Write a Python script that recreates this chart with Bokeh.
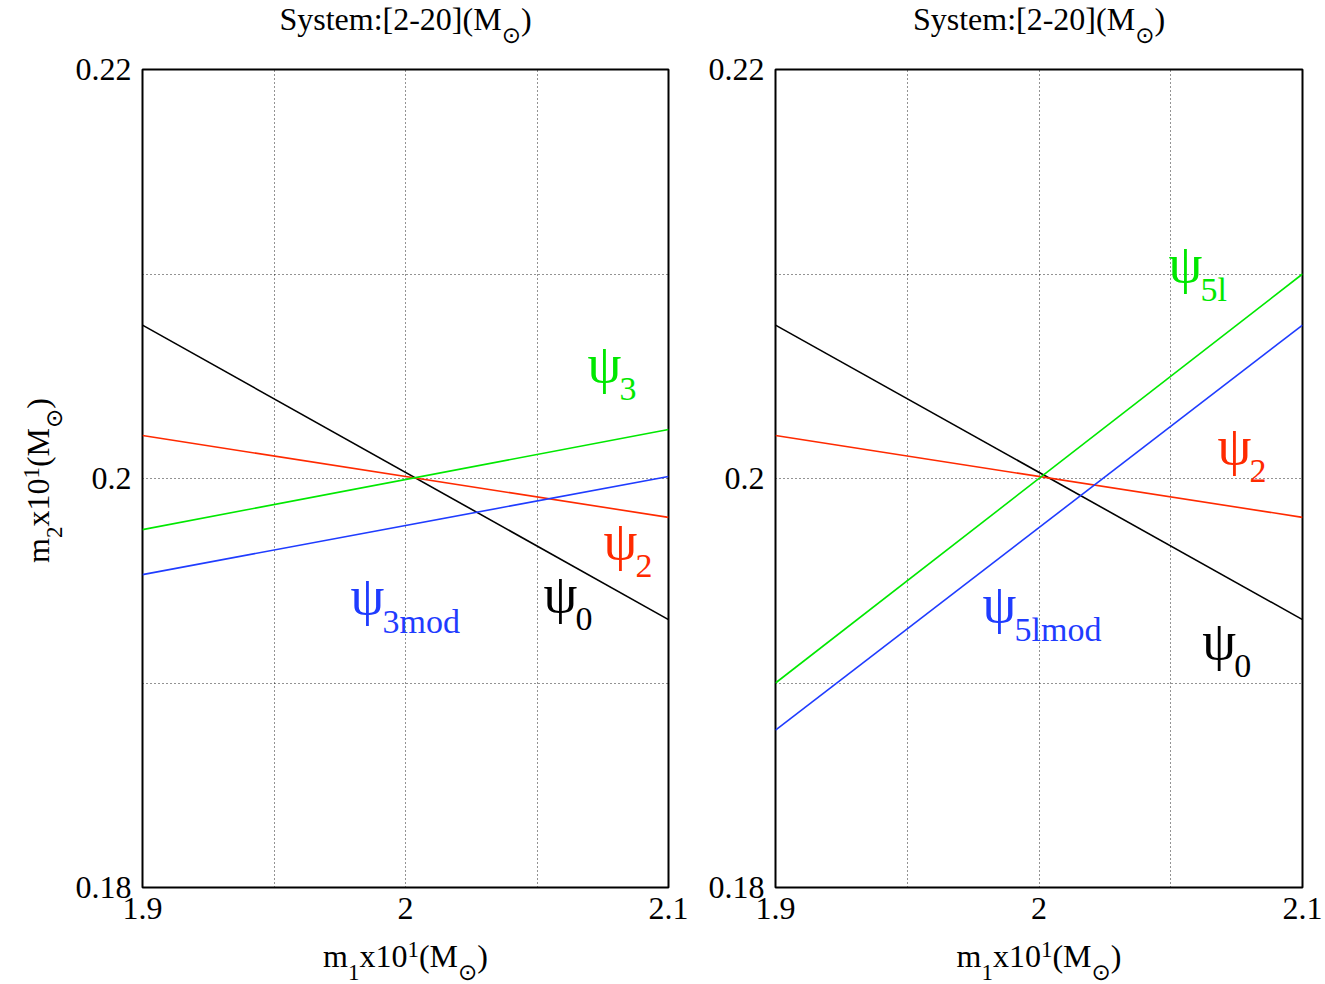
import math
from bokeh.plotting import figure
from bokeh.layouts import row, column
from bokeh.models import Range1d, FixedTicker, CustomJSTickFormatter, Label
from bokeh.embed import file_html
from bokeh.resources import INLINE

# component masses (x10 M_sun) at the two ends of the m1 axis
m1_ends = [1.9, 2.1]

# m2 along each phase-coefficient contour
psi0 = [0.2075, 0.1931]
psi2 = [0.2021, 0.1981]
psi3 = [0.1975, 0.2024]
psi3mod = [0.1953, 0.2001]
psi5l = [0.1900, 0.2100]
psi5lmod = [0.1877, 0.2075]

x_ticks = [1.9, 2.0, 2.1]
y_ticks = [0.18, 0.20, 0.22]
x_grid = [1.95, 2.0, 2.05]
y_grid = [0.19, 0.20, 0.21]

panel_title = "System:[2-20](M"

BLACK = "#000000"
RED = "#ff2a00"
GREEN = "#00e800"
BLUE = "#1f3cff"

SERIF = "Liberation Serif"
SYM = "DejaVu Sans"
SUN = "\u2299"
BL = 0.33  # baseline correction, fraction of font size

# approximate advance widths (em) for the serif face
ADV = {'S': 0.556, 'y': 0.5, 's': 0.389, 't': 0.278, 'e': 0.444, 'm': 0.778,
       ':': 0.278, '[': 0.333, ']': 0.333, '-': 0.333, '(': 0.333, ')': 0.333,
       'M': 0.889, 'x': 0.5, 'o': 0.5, 'd': 0.5, 'l': 0.278, SUN: 0.838}

CANVAS_H = 984
FRAME_TOP = 69
FH = 818
TOP, BOTTOM = 20, 46
# frame widths and side borders of the two panels
FW_L, BL_L, BR_L = 526, 70, 32
FW_R, BL_R, BR_R = 527, 75, 23


def run_width(text, size):
    return sum(ADV.get(c, 0.5) for c in text) * size


def text_fig(w, h, left=0, right=0):
    f = figure(frame_width=w, frame_height=h, output_backend="svg",
               toolbar_location=None, x_range=Range1d(0, w), y_range=Range1d(0, h),
               min_border_left=left, min_border_right=right, min_border_top=0,
               min_border_bottom=0, x_axis_type=None, y_axis_type=None)
    f.outline_line_color = None
    f.grid.visible = False
    f.background_fill_color = "white"
    f.border_fill_color = "white"
    return f


def place_runs(f, runs, center, base, rotated=False):
    """Lay out (text, size, shift, font) runs centred on `center` along the
    text direction, with the main baseline at `base`."""
    total = sum(run_width(t, s) for t, s, _, _ in runs)
    pos = center - total / 2
    for t, s, shift, font in runs:
        fix = BL * s
        if rotated:
            lab = Label(x=base - shift - fix, y=pos, angle=math.pi / 2)
        else:
            lab = Label(x=pos, y=base + shift + fix)
        lab.update(text=t, text_font=font, text_font_size=f"{s}px",
                   text_color="black", text_align="left", text_baseline="alphabetic")
        f.add_layout(lab)
        pos += run_width(t, s)


def label_runs(sub):
    return [("m", 32, 0, SERIF), (sub, 23, -14, SERIF), ("x10", 32, 0, SERIF),
            ("1", 23, 9, SERIF), ("(M", 32, 0, SERIF), (SUN, 23, -13, SYM),
            (")", 32, 0, SERIF)]


def psi_label(p, x, y, sub, color):
    p.add_layout(Label(x=x, y=y, y_offset=7 + 12 + BL * 54, text="\u03c8",
                       text_font=SERIF, text_font_size="54px", text_color=color,
                       text_baseline="alphabetic"))
    p.add_layout(Label(x=x, y=y, x_offset=32, y_offset=BL * 34, text=sub,
                       text_font=SERIF, text_font_size="34px", text_color=color,
                       text_baseline="alphabetic"))


def make_panel(fw, left, right):
    p = figure(frame_width=fw, frame_height=FH, output_backend="svg",
               toolbar_location=None, x_range=Range1d(1.9, 2.1),
               y_range=Range1d(0.18, 0.22), min_border_left=left,
               min_border_right=right, min_border_top=TOP, min_border_bottom=BOTTOM)
    p.background_fill_color = "white"
    p.border_fill_color = "white"
    p.outline_line_color = "black"
    p.outline_line_width = 2
    p.outline_line_alpha = 1

    for ax, ticks in ((p.xaxis[0], x_ticks), (p.yaxis[0], y_ticks)):
        ax.ticker = FixedTicker(ticks=ticks)
        ax.formatter = CustomJSTickFormatter(code="return String(tick)")
        ax.axis_line_color = None
        ax.major_tick_line_color = None
        ax.minor_tick_line_color = None
        ax.major_tick_out = 0
        ax.major_tick_in = 0
        ax.major_label_text_font = SERIF
        ax.major_label_text_font_size = "32px"
        ax.major_label_text_color = "black"
    p.xaxis.major_label_standoff = 10
    p.yaxis.major_label_standoff = 11

    p.xgrid.ticker = FixedTicker(ticks=x_grid)
    p.ygrid.ticker = FixedTicker(ticks=y_grid)
    for g in (p.xgrid, p.ygrid):
        g.grid_line_color = "black"
        g.grid_line_alpha = 0.85
        g.grid_line_width = 1
        g.grid_line_dash = "1 3"
    return p


left = make_panel(FW_L, BL_L, BR_L)
right = make_panel(FW_R, BL_R, BR_R)

for p, series in (
    (left, [(psi0, BLACK), (psi2, RED), (psi3, GREEN), (psi3mod, BLUE)]),
    (right, [(psi0, BLACK), (psi2, RED), (psi5l, GREEN), (psi5lmod, BLUE)]),
):
    for ys, c in series:
        p.line(m1_ends, ys, line_color=c, line_width=1.6)

psi_label(left, 2.0525, 0.19257, "0", BLACK)
psi_label(left, 2.0753, 0.19516, "2", RED)
psi_label(left, 2.0692, 0.20381, "3", GREEN)
psi_label(left, 1.9791, 0.19247, "3mod", BLUE)

psi_label(right, 2.0491, 0.2087, "5l", GREEN)
psi_label(right, 2.0677, 0.1998, "2", RED)
psi_label(right, 1.9786, 0.19208, "5lmod", BLUE)
psi_label(right, 2.0620, 0.19027, "0", BLACK)

# titles above each panel (frames line up with the panels below)
title_h = FRAME_TOP - TOP
title_l = text_fig(FW_L, title_h, BL_L, BR_L)
title_r = text_fig(FW_R, title_h, BL_R, BR_R)
for f, fw in ((title_l, FW_L), (title_r, FW_R)):
    place_runs(f, [(panel_title, 32, 0, SERIF), (SUN, 23, -13, SYM),
                   (")", 32, 0, SERIF)], fw / 2, title_h - 29)

# x-axis labels below each panel
xlab_h = CANVAS_H - (FRAME_TOP + FH) - BOTTOM
xlab_l = text_fig(FW_L, xlab_h, BL_L, BR_L)
xlab_r = text_fig(FW_R, xlab_h, BL_R, BR_R)
for f, fw in ((xlab_l, FW_L), (xlab_r, FW_R)):
    place_runs(f, label_runs("1"), fw / 2, CANVAS_H - 966)

# y-axis label on the far left
ylab = text_fig(72, CANVAS_H)
place_runs(ylab, label_runs("2"), 504, 48, rotated=True)

layout = row(ylab,
             column(title_l, left, xlab_l, spacing=0),
             column(title_r, right, xlab_r, spacing=0),
             spacing=0)
open("out.html", "w").write(file_html(layout, INLINE))
